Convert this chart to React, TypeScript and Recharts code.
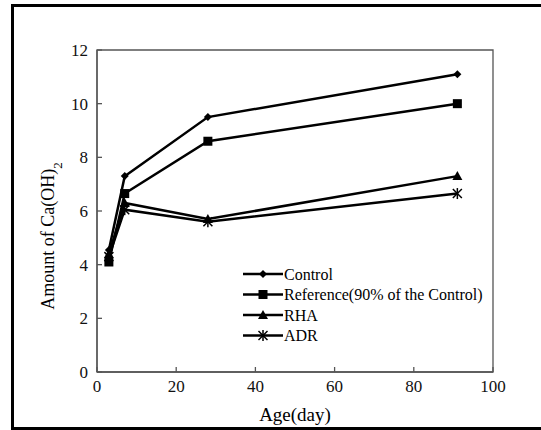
import React from 'react';
import { LineChart, Line, XAxis, YAxis, ReferenceArea } from 'recharts';

const days = [3, 7, 28, 91];
const controlValues = [4.55, 7.3, 9.5, 11.1];
const referenceValues = [4.1, 6.65, 8.6, 10.0];
const rhaValues = [4.4, 6.3, 5.7, 7.3];
const adrValues = [4.3, 6.05, 5.6, 6.65];
const xTicks = [0, 20, 40, 60, 80, 100];
const yTicks = [0, 2, 4, 6, 8, 10, 12];
const seriesNames = ['Control', 'Reference(90% of the Control)', 'RHA', 'ADR'];

const data = days.map((d, i) => ({
  day: d,
  control: controlValues[i],
  reference: referenceValues[i],
  rha: rhaValues[i],
  adr: adrValues[i],
}));

const FONT = '"Liberation Serif", "Times New Roman", serif';

const Marker = ({ kind, cx, cy }: { kind: string; cx: number; cy: number }) => {
  if (cx == null || cy == null) return null;
  if (kind === 'diamond') {
    const r = 4;
    return <path d={`M${cx},${cy - r}L${cx + r},${cy}L${cx},${cy + r}L${cx - r},${cy}Z`} fill="#000" />;
  }
  if (kind === 'square') {
    return <rect x={cx - 4.5} y={cy - 4.5} width={9} height={9} fill="#000" />;
  }
  if (kind === 'triangle') {
    return <path d={`M${cx},${cy - 5}L${cx + 5},${cy + 4}L${cx - 5},${cy + 4}Z`} fill="#000" />;
  }
  const r = 4.5;
  return (
    <g stroke="#000" strokeWidth={1.5}>
      <line x1={cx - r} y1={cy - r} x2={cx + r} y2={cy + r} />
      <line x1={cx - r} y1={cy + r} x2={cx + r} y2={cy - r} />
      <line x1={cx} y1={cy - r - 1} x2={cx} y2={cy + r + 1} />
    </g>
  );
};

const makeDot = (kind: string) => (props: any) => (
  <Marker key={`${kind}-${props.index}`} kind={kind} cx={props.cx} cy={props.cy} />
);

const kinds = ['diamond', 'square', 'triangle', 'star'];

const LegendContent = () => (
  <svg width={270} height={90} style={{ display: 'block' }}>
    {seriesNames.map((name, i) => {
      const y = 9 + i * 20.5;
      return (
        <g key={name}>
          <line x1={0} y1={y} x2={40} y2={y} stroke="#000" strokeWidth={2.5} />
          <Marker kind={kinds[i]} cx={20} cy={y} />
          <text x={41} y={y} dy="0.35em" fontFamily={FONT} fontSize={16} fill="#000">
            {name}
          </text>
        </g>
      );
    })}
  </svg>
);

const YLabel = () => (
  <text
    x={0}
    y={0}
    transform="translate(54,236) rotate(-90)"
    textAnchor="middle"
    fontFamily={FONT}
    fontSize={18}
    fill="#000"
  >
    Amount of Ca(OH)
    <tspan baselineShift="sub" fontSize={13}>2</tspan>
  </text>
);

export default function App() {
  return (
    <div style={{ position: 'absolute', left: 0, top: 0, width: 541, height: 430, background: '#fff', fontFamily: FONT }}>
      <div
        style={{
          position: 'absolute',
          left: 11,
          top: 4,
          width: 540,
          height: 420,
          border: '3px solid #000',
          boxSizing: 'content-box',
        }}
      />
      <div style={{ position: 'absolute', left: 0, top: 0 }}>
        <LineChart width={541} height={430} data={data} margin={{ top: 50, right: 48, bottom: 0, left: 0 }} style={{ fontFamily: FONT }}>
          <XAxis
            dataKey="day"
            type="number"
            domain={[0, 100]}
            ticks={xTicks}
            height={58}
            stroke="#555"
            strokeWidth={1.3}
            tickSize={-5}
            tickMargin={13}
            tick={{ fill: '#111', fontFamily: FONT, fontSize: 17 }}
            label={{ value: 'Age(day)', position: 'insideBottom', offset: 9, fill: '#000', fontFamily: FONT, fontSize: 19 }}
          />
          <YAxis
            type="number"
            domain={[0, 12]}
            ticks={yTicks}
            width={97}
            stroke="#555"
            strokeWidth={1.3}
            tickSize={-5}
            tickMargin={14}
            tick={{ fill: '#111', fontFamily: FONT, fontSize: 17 }}
            label={{ content: () => <YLabel /> }}
          />
          <ReferenceArea x1={0} x2={100} y1={0} y2={12} fill="none" stroke="#555" strokeWidth={1.3} ifOverflow="extendDomain" />
          <Line dataKey="control" name={seriesNames[0]} stroke="#000" strokeWidth={2.5} dot={makeDot('diamond')} isAnimationActive={false} />
          <Line dataKey="reference" name={seriesNames[1]} stroke="#000" strokeWidth={2.5} dot={makeDot('square')} isAnimationActive={false} />
          <Line dataKey="rha" name={seriesNames[2]} stroke="#000" strokeWidth={2.5} dot={makeDot('triangle')} isAnimationActive={false} />
          <Line dataKey="adr" name={seriesNames[3]} stroke="#000" strokeWidth={2.5} dot={makeDot('star')} isAnimationActive={false} />
        </LineChart>
      </div>
      <div style={{ position: 'absolute', left: 243, top: 265 }}>
        <LegendContent />
      </div>
    </div>
  );
}
